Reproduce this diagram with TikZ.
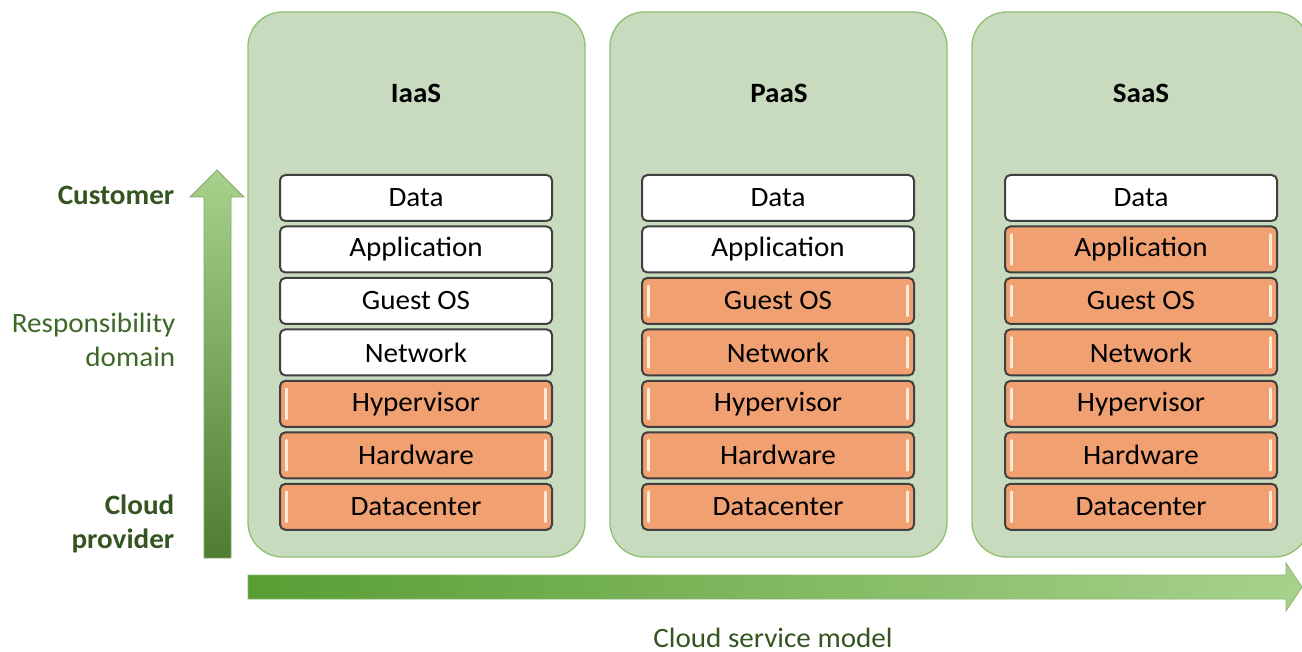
\documentclass[tikz,border=0pt]{standalone}
\usepackage{fontspec}
\setmainfont{Carlito}[FakeStretch=1.04]
\usetikzlibrary{positioning}

\definecolor{panelfill}{RGB}{201,219,190}
\definecolor{paneldraw}{RGB}{145,192,115}
\definecolor{layerorange}{RGB}{241,160,114}
\definecolor{layerglow}{RGB}{255,236,214}
\definecolor{darkgreen}{RGB}{52,84,32}
\definecolor{midgreen}{RGB}{62,104,40}
\definecolor{arrowlight}{RGB}{168,210,140}
\definecolor{arrowdark}{RGB}{78,124,48}
\definecolor{arrowmid}{RGB}{88,158,52}

\tikzset{
  panel/.style={draw=paneldraw, fill=panelfill, line width=1pt, rounded corners=26pt},
  paneltitle/.style={font=\fontsize{21}{25}\selectfont\bfseries},
  layer/.style={draw=black!75, fill=white, line width=1.5pt, rounded corners=4pt,
    minimum width=204pt, minimum height=34.5pt, inner sep=0pt,
    font=\fontsize{21}{25}\selectfont},
  layerhot/.style={layer, fill=layerorange, path picture={
    \draw[layerglow, line width=2pt, line cap=round]
      ([xshift=5pt,yshift=-6pt]path picture bounding box.north west) --
      ([xshift=5pt,yshift=6pt]path picture bounding box.south west);
    \draw[layerglow, line width=2pt, line cap=round]
      ([xshift=-5pt,yshift=-6pt]path picture bounding box.north east) --
      ([xshift=-5pt,yshift=6pt]path picture bounding box.south east);
  }},
  sidelabel/.style={anchor=east, align=right, font=\fontsize{21}{25.5}\selectfont},
  node distance=2.6pt
}

\begin{document}
\begin{tikzpicture}[x=0.75pt,y=0.75pt,yscale=-1,xscale=1]
  \clip (0,0) rectangle (1302,652);

  %Panels
  \draw [panel] (248,12) rectangle (585,557);
  \draw [panel] (610,12) rectangle (947,557);
  \draw [panel] (972,12) rectangle (1309,557);

  \node [paneltitle] (iaasTitle) at (416,93) {IaaS};
  \node [paneltitle] (paasTitle) at (779,93) {PaaS};
  \node [paneltitle] (saasTitle) at (1141,93) {SaaS};

  %IaaS stack
  \node [layer] (iaasData) at (416,198) {Data};
  \node [layer, below=of iaasData] (iaasApp) {Application};
  \node [layer, below=of iaasApp] (iaasOS) {Guest OS};
  \node [layer, below=of iaasOS] (iaasNet) {Network};
  \node [layerhot, below=of iaasNet] (iaasHyp) {Hypervisor};
  \node [layerhot, below=of iaasHyp] (iaasHw) {Hardware};
  \node [layerhot, below=of iaasHw] (iaasDc) {Datacenter};

  %PaaS stack
  \node [layer] (paasData) at (778,198) {Data};
  \node [layer, below=of paasData] (paasApp) {Application};
  \node [layerhot, below=of paasApp] (paasOS) {Guest OS};
  \node [layerhot, below=of paasOS] (paasNet) {Network};
  \node [layerhot, below=of paasNet] (paasHyp) {Hypervisor};
  \node [layerhot, below=of paasHyp] (paasHw) {Hardware};
  \node [layerhot, below=of paasHw] (paasDc) {Datacenter};

  %SaaS stack
  \node [layer] (saasData) at (1141,198) {Data};
  \node [layerhot, below=of saasData] (saasApp) {Application};
  \node [layerhot, below=of saasApp] (saasOS) {Guest OS};
  \node [layerhot, below=of saasOS] (saasNet) {Network};
  \node [layerhot, below=of saasNet] (saasHyp) {Hypervisor};
  \node [layerhot, below=of saasHyp] (saasHw) {Hardware};
  \node [layerhot, below=of saasHw] (saasDc) {Datacenter};

  %Responsibility arrow
  \shade [top color=arrowlight, bottom color=arrowdark, draw=arrowlight!80!black, line width=0.6pt]
    (204,558) -- (204,197) -- (190,197) -- (217,170) -- (244,197) -- (231,197) -- (231,558) -- cycle;

  %Service model arrow
  \shade [left color=arrowmid, right color=arrowlight, draw=arrowlight!85!black, line width=0.6pt]
    (248,575) -- (1286,575) -- (1286,563) -- (1302,587) -- (1286,611) -- (1286,599) -- (248,599) -- cycle;

  %Labels
  \node [sidelabel, text=darkgreen, font=\fontsize{21}{25.5}\selectfont\bfseries] (customer) at (179,195) {Customer};
  \node [sidelabel, text=midgreen] (domain) at (180,340) {Responsibility\\domain};
  \node [sidelabel, text=darkgreen, font=\fontsize{21}{25.5}\selectfont\bfseries] (provider) at (179,524) {Cloud\\provider};
  \node [text=darkgreen, font=\fontsize{21}{25}\selectfont] (model) at (773,638) {Cloud service model};
\end{tikzpicture}
\end{document}
